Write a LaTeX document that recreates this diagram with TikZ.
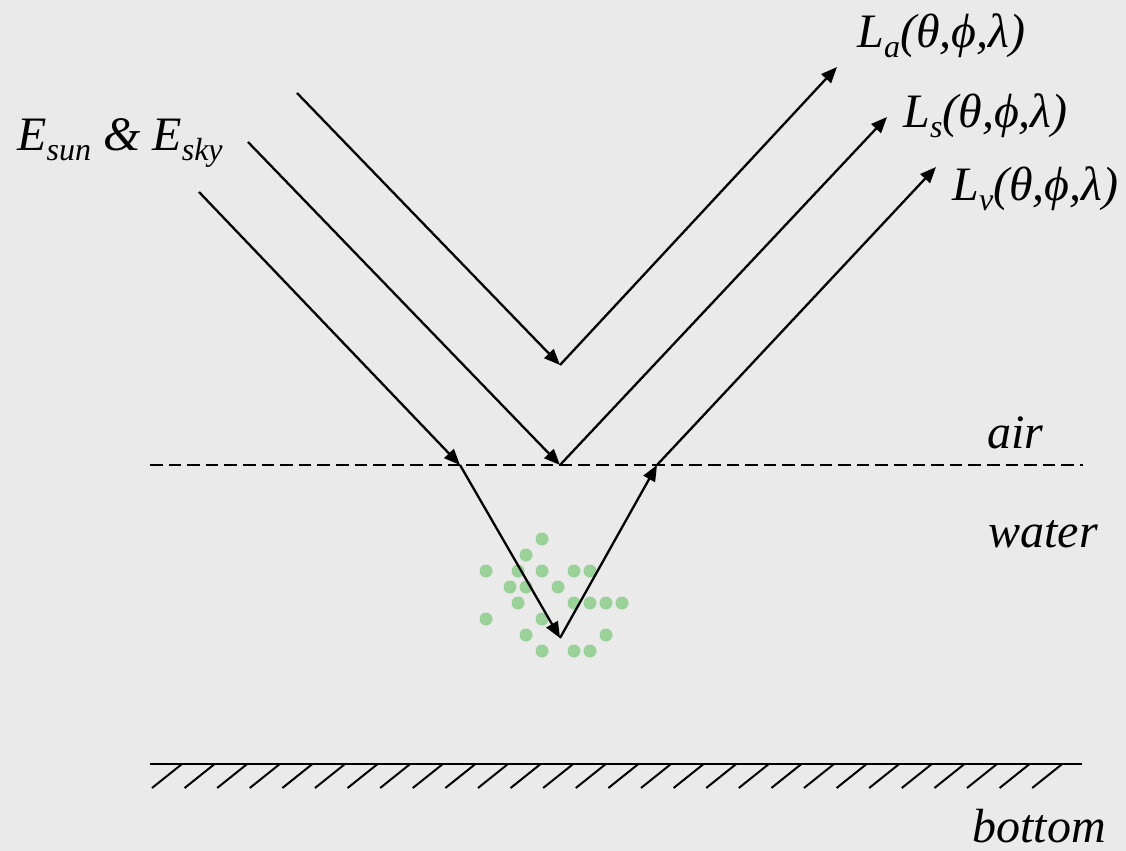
\documentclass[tikz,border=0pt]{standalone}
\usepackage{fontspec}
\setmainfont{Liberation Serif}
\usetikzlibrary{arrows.meta}
\definecolor{bg}{RGB}{234,234,234}
\definecolor{dotgreen}{RGB}{153,209,153}
\newcommand{\sbx}[1]{\raisebox{-5pt}{\fontsize{16}{16}\selectfont #1}}
\begin{document}
\begin{tikzpicture}[x=0.5pt,y=-0.5pt,
  ray/.style={line width=1.15pt,-{Triangle[length=8pt,width=6.5pt]}},
  lbl/.style={inner sep=0pt,anchor=base west,font=\fontsize{24}{28}\selectfont\itshape},
  dotfill/.style={fill=dotgreen}]
\fill[bg] (0,0) rectangle (1126,851);
\useasboundingbox (0,0) rectangle (1126,851);

% points
\coordinate (s1) at (297,93);
\coordinate (s2) at (248,142);
\coordinate (s3) at (199,192);
\coordinate (p1) at (560,365);
\coordinate (p2) at (560,465);
\coordinate (in3) at (460,465);
\coordinate (b3) at (560,638);
\coordinate (out3) at (657,465);
\coordinate (e1) at (837,67);
\coordinate (e2) at (887,117);
\coordinate (e3) at (936,167);
\coordinate (sL) at (150,465);
\coordinate (sR) at (1083,465);
\coordinate (bL) at (150,764);
\coordinate (bR) at (1082,764);

% dots
\foreach \x/\y in {542/539,526/555,486/571,518/571,542/571,574/571,590/571,
  510/587,526/587,558/587,518/603,574/603,590/603,606/603,622/603,
  486/619,542/619,526/635,606/635,542/651,574/651,590/651}
  \fill[dotfill] (\x,\y) circle[radius=6.5];

% surface and bottom
\draw[line width=1pt,dash pattern=on 6.3pt off 3pt] (sL) -- (sR);
\draw[line width=1.2pt] (bL) -- (bR);
\foreach \k in {0,...,27}
  \draw[line width=1pt] ({152+32.6*\k},788) -- ({182+32.6*\k},764);

% rays
\draw[ray] (s1) -- (p1);
\draw[ray] (p1) -- (e1);
\draw[ray] (s2) -- (p2);
\draw[ray] (p2) -- (e2);
\draw[ray] (s3) -- (in3);
\draw[ray] (in3) -- (b3);
\draw[ray] (b3) -- (out3);
\draw[ray] (out3) -- (e3);

% labels
\node[lbl] (esun) at (17,150) {E\sbx{sun} \& E\sbx{sky}};
\node[lbl] (La) at (857,47) {L\sbx{a}(θ,ϕ,λ)};
\node[lbl] (Ls) at (903,127) {L\sbx{s}(θ,ϕ,λ)};
\node[lbl] (Lv) at (952,200) {L\sbx{v}(θ,ϕ,λ)};
\node[lbl] (air) at (987,448) {air};
\node[lbl] (water) at (988,547) {water};
\node[lbl] (bottom) at (972,842) {bottom};
\end{tikzpicture}
\end{document}
